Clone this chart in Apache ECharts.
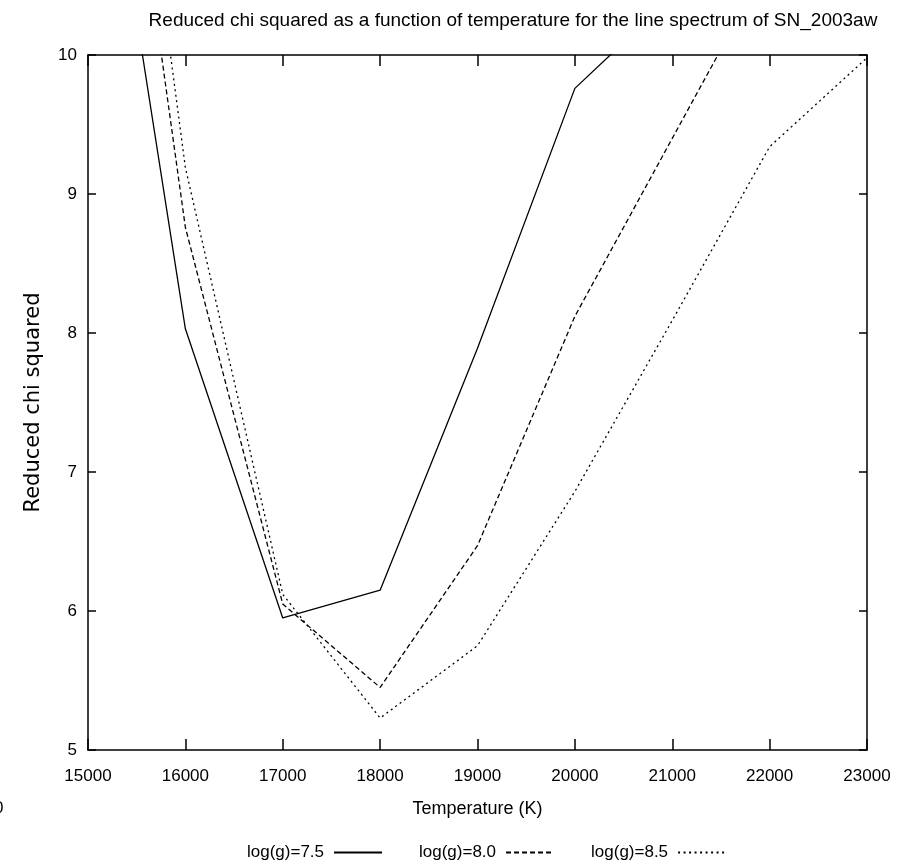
<!DOCTYPE html>
<html>
<head>
<meta charset="utf-8">
<script src="https://cdn.jsdelivr.net/npm/echarts@6/dist/echarts.min.js"></script>
<style>html,body{margin:0;padding:0;background:#fff}#c{width:908px;height:865px}</style>
</head>
<body>
<div id="c"></div>
<script>
var temperatures = [15000, 16000, 17000, 18000, 19000, 20000, 21000, 22000, 23000];
var chiLogg75 = [12.5, 8.03, 5.95, 6.15, 7.89, 9.76, 10.42, null, null];
var chiLogg80 = [13.8, 8.76, 6.05, 5.45, 6.47, 8.12, 9.40, 10.68, null];
var chiLogg85 = [14.5, 9.19, 6.12, 5.23, 5.75, 6.86, 8.09, 9.34, 9.98];
var seriesNames = ['log(g)=7.5', 'log(g)=8.0', 'log(g)=8.5'];
var xTicks = [15000, 16000, 17000, 18000, 19000, 20000, 21000, 22000, 23000];
var yTicks = [5, 6, 7, 8, 9, 10];

function pairs(vals) {
  var out = [];
  for (var i = 0; i < temperatures.length; i++) {
    if (vals[i] !== null) out.push([temperatures[i], vals[i]]);
  }
  return out;
}

var FONT = 'Liberation Sans';
var chart = echarts.init(document.getElementById('c'), null, {renderer: 'canvas'});
var axisLine = {show: true, lineStyle: {color: '#000', width: 1.5}};
var option = {
  backgroundColor: '#fff',
  animation: false,
  title: {
    text: 'Reduced chi squared as a function of temperature for the line spectrum of SN_2003aw',
    left: 508, top: 6, textAlign: 'center',
    textStyle: {fontFamily: FONT, fontSize: 19, fontWeight: 'normal', color: '#000'}
  },
  grid: {left: 88, right: 41, top: 55, bottom: 115},
  legend: {
    data: seriesNames,
    left: 242, top: 839,
    align: 'right',
    itemWidth: 48, itemHeight: 10, itemGap: 36,
    itemStyle: {opacity: 0},
    textStyle: {fontFamily: FONT, fontSize: 17, color: '#000', padding: [0, 5, 0, 0]}
  },
  xAxis: [{
    type: 'value', min: xTicks[0], max: xTicks[xTicks.length - 1], interval: 1000,
    name: 'Temperature (K)', nameLocation: 'middle', nameGap: 50,
    nameTextStyle: {fontFamily: FONT, fontSize: 18, color: '#000'},
    axisLine: axisLine,
    axisTick: {show: true, inside: true, length: 11, lineStyle: {color: '#000', width: 1.5}},
    axisLabel: {fontFamily: FONT, fontSize: 17, color: '#000', margin: 18,
      formatter: function (v) { return String(v); }},
    splitLine: {show: false}
  }, {
    type: 'value', position: 'top', min: xTicks[0], max: xTicks[xTicks.length - 1], interval: 1000,
    axisLine: axisLine,
    axisTick: {show: true, inside: true, length: 11, lineStyle: {color: '#000', width: 1.5}},
    axisLabel: {show: false}, splitLine: {show: false}
  }],
  yAxis: [{
    type: 'value', min: yTicks[0], max: yTicks[yTicks.length - 1], interval: 1,
    name: 'Reduced chi squared', nameLocation: 'middle', nameGap: 44, nameRotate: 90,
    nameTextStyle: {fontFamily: 'DejaVu Sans', fontSize: 21, color: '#000'},
    axisLine: axisLine,
    axisTick: {show: true, inside: true, length: 8, lineStyle: {color: '#000', width: 1.5}},
    axisLabel: {fontFamily: FONT, fontSize: 17, color: '#000', margin: 11},
    splitLine: {show: false}
  }, {
    type: 'value', position: 'right', min: yTicks[0], max: yTicks[yTicks.length - 1], interval: 1,
    axisLine: axisLine,
    axisTick: {show: true, inside: true, length: 8, lineStyle: {color: '#000', width: 1.5}},
    axisLabel: {show: false}, splitLine: {show: false}
  }],
  graphic: [{
    type: 'text', left: -6, top: 800,
    style: {text: '0', fontFamily: FONT, fontSize: 17, fill: '#000'}
  }],
  series: [
    {name: seriesNames[0], type: 'line', data: pairs(chiLogg75), symbol: 'none', clip: true,
     lineStyle: {color: '#000', width: 1.3, type: 'solid'}, itemStyle: {color: '#000'}},
    {name: seriesNames[1], type: 'line', data: pairs(chiLogg80), symbol: 'none', clip: true,
     lineStyle: {color: '#000', width: 1.3, type: [5, 3]}, itemStyle: {color: '#000'}},
    {name: seriesNames[2], type: 'line', data: pairs(chiLogg85), symbol: 'none', clip: true,
     lineStyle: {color: '#000', width: 1.3, type: [2, 3.5]}, itemStyle: {color: '#000'}}
  ]
};
chart.setOption(option);
</script>
</body>
</html>
